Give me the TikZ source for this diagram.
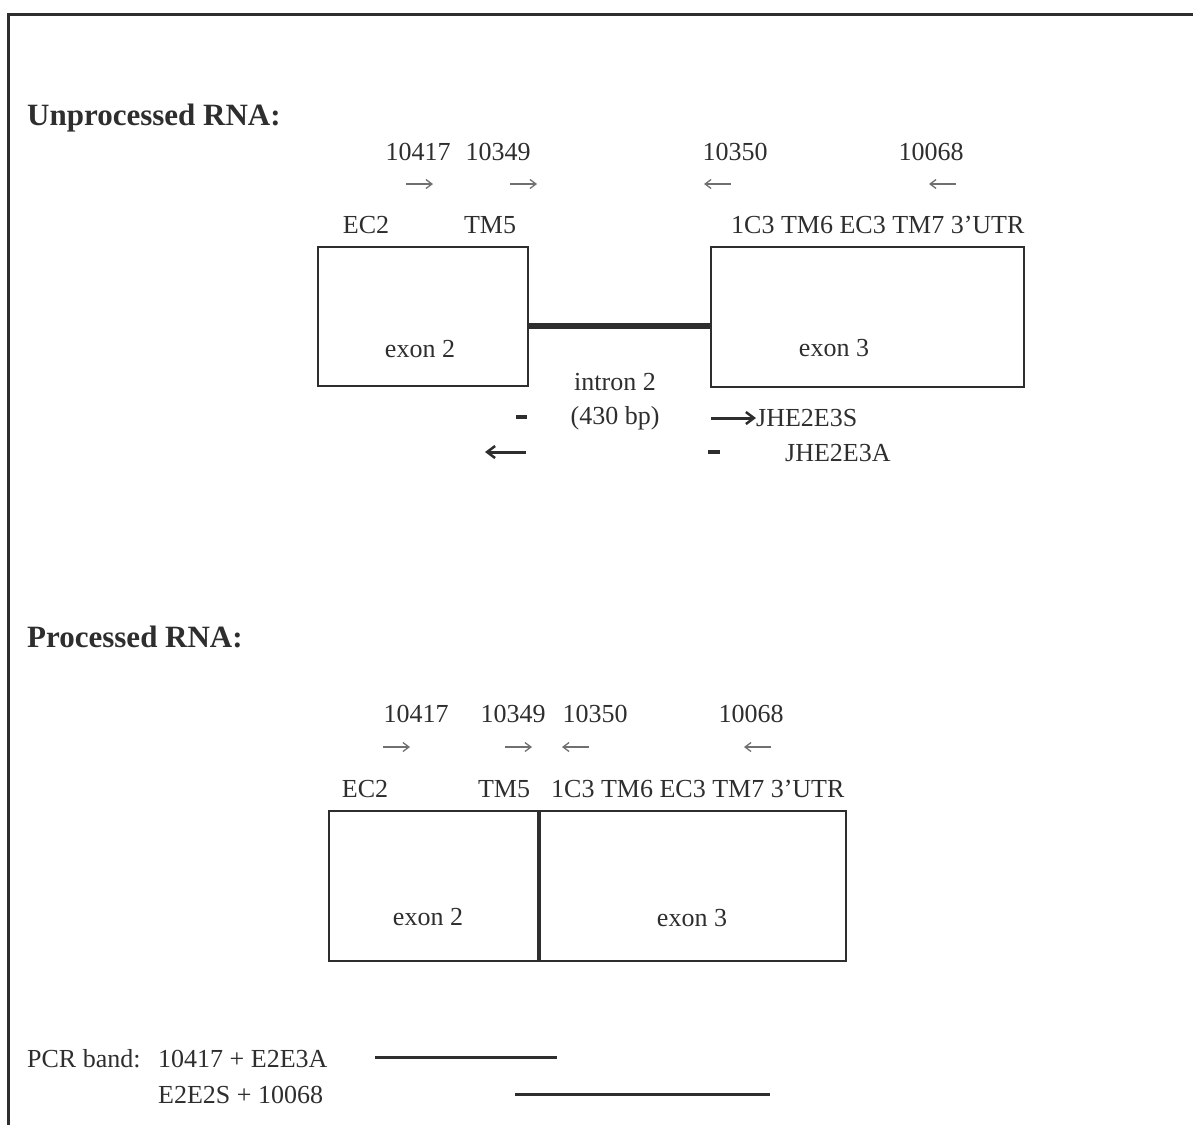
\documentclass[tikz,border=0pt]{standalone}
\usepackage{fontspec}
\setmainfont{Liberation Serif}
\usetikzlibrary{arrows.meta}
\definecolor{ink}{HTML}{2E2E2E}
\definecolor{primgray}{HTML}{707070}
\begin{document}
\begin{tikzpicture}[x=1pt,y=-1pt,
  txt/.style={text=ink, inner sep=0pt, font=\fontsize{26}{30}\selectfont},
  ttl/.style={text=ink, inner sep=0pt, anchor=west, font=\fontsize{31}{35}\selectfont\bfseries},
  primer/.style={draw=primgray, line width=1.3pt, -{Straight Barb[length=6pt,width=9pt]}},
  oligo/.style={draw=ink, line width=3pt, -{Straight Barb[length=8pt,width=12pt,line width=2.5pt]}},
  tick/.style={draw=ink, line width=4pt},
  exonbox/.style={draw=ink, line width=2pt, inner sep=0pt},
  frameline/.style={draw=ink, line width=3pt},
  band/.style={draw=ink, line width=3pt}
]
\useasboundingbox (0,0) rectangle (1193,1125);
% frame
\coordinate (fTL) at (8,14);
\coordinate (fTR) at (1193,14);
\coordinate (fBL) at (8,1125);
\draw[frameline] (fTR) -- (fTL) -- (fBL);

% ---------------- Unprocessed RNA ----------------
\node[ttl] (t1) at (27,118) {Unprocessed RNA:};
\node[txt] (u10417) at (418,152) {10417};
\node[txt] (u10349) at (498,152) {10349};
\node[txt] (u10350) at (735,152) {10350};
\node[txt] (u10068) at (931,152) {10068};
\coordinate (ua1s) at (406,184); \coordinate (ua1e) at (433,184);
\coordinate (ua2s) at (510,184); \coordinate (ua2e) at (537,184);
\coordinate (ua3s) at (731,184); \coordinate (ua3e) at (704,184);
\coordinate (ua4s) at (956,184); \coordinate (ua4e) at (929,184);
\draw[primer] (ua1s) -- (ua1e);
\draw[primer] (ua2s) -- (ua2e);
\draw[primer] (ua3s) -- (ua3e);
\draw[primer] (ua4s) -- (ua4e);
\node[txt] (uEC2) at (366,225) {EC2};
\node[txt] (uTM5) at (490,225) {TM5};
\node[txt, anchor=west] (uregs) at (731,225) {1C3 TM6 EC3 TM7 3'UTR};

\node[exonbox, minimum width=210pt, minimum height=139pt] (uex2) at (423,316.5) {};
\node[exonbox, minimum width=313pt, minimum height=140pt] (uex3) at (867.5,317) {};
\node[txt] (uex2l) at (420,349) {exon 2};
\node[txt] (uex3l) at (834,348) {exon 3};
\coordinate (intL) at (528,326);
\coordinate (intR) at (711,326);
\draw[draw=ink, line width=6pt] (intL) -- (intR);
\node[txt] (intl) at (615,382) {intron 2};
\node[txt] (intbp) at (615,418) {(430 bp)};

\coordinate (d1s) at (516,417); \coordinate (d1e) at (527,417);
\draw[tick] (d1s) -- (d1e);
\coordinate (d2s) at (708,452); \coordinate (d2e) at (720,452);
\draw[tick] (d2s) -- (d2e);
\coordinate (la1s) at (526,452); \coordinate (la1e) at (485,452);
\draw[oligo] (la1s) -- (la1e);
\node[txt, anchor=west] (jhS) at (756,418) {JHE2E3S};
\coordinate (ra1s) at (711,418);
\draw[oligo] (ra1s) -- (jhS.west);
\node[txt, anchor=west] (jhA) at (785,453) {JHE2E3A};

% ---------------- Processed RNA ----------------
\node[ttl] (t2) at (27,637) {Processed RNA:};
\node[txt] (p10417) at (416,714) {10417};
\node[txt] (p10349) at (513,714) {10349};
\node[txt] (p10350) at (595,714) {10350};
\node[txt] (p10068) at (751,714) {10068};
\coordinate (pa1s) at (383,747); \coordinate (pa1e) at (410,747);
\coordinate (pa2s) at (505,747); \coordinate (pa2e) at (532,747);
\coordinate (pa3s) at (589,747); \coordinate (pa3e) at (562,747);
\coordinate (pa4s) at (771,747); \coordinate (pa4e) at (744,747);
\draw[primer] (pa1s) -- (pa1e);
\draw[primer] (pa2s) -- (pa2e);
\draw[primer] (pa3s) -- (pa3e);
\draw[primer] (pa4s) -- (pa4e);
\node[txt] (pEC2) at (365,789) {EC2};
\node[txt] (pTM5) at (504,789) {TM5};
\node[txt, anchor=west] (pregs) at (551,789) {1C3 TM6 EC3 TM7 3'UTR};

\node[exonbox, minimum width=517pt, minimum height=150pt] (pbox) at (587.5,886) {};
\coordinate (divT) at (539,811);
\coordinate (divB) at (539,961);
\draw[draw=ink, line width=4pt] (divT) -- (divB);
\node[txt] (pex2l) at (428,917) {exon 2};
\node[txt] (pex3l) at (692,918) {exon 3};

% ---------------- PCR bands ----------------
\node[txt, anchor=base west] (pcr0) at (27,1067) {PCR band:};
\node[txt, anchor=base west] (pcr1) at (158,1067) {10417 + E2E3A};
\node[txt, anchor=base west] (pcr2) at (158,1103) {E2E2S + 10068};
\coordinate (b1s) at (375,1057); \coordinate (b1e) at (557,1057);
\coordinate (b2s) at (515,1094); \coordinate (b2e) at (770,1094);
\draw[band] (b1s) -- (b1e);
\draw[band] (b2s) -- (b2e);
\end{tikzpicture}
\end{document}
